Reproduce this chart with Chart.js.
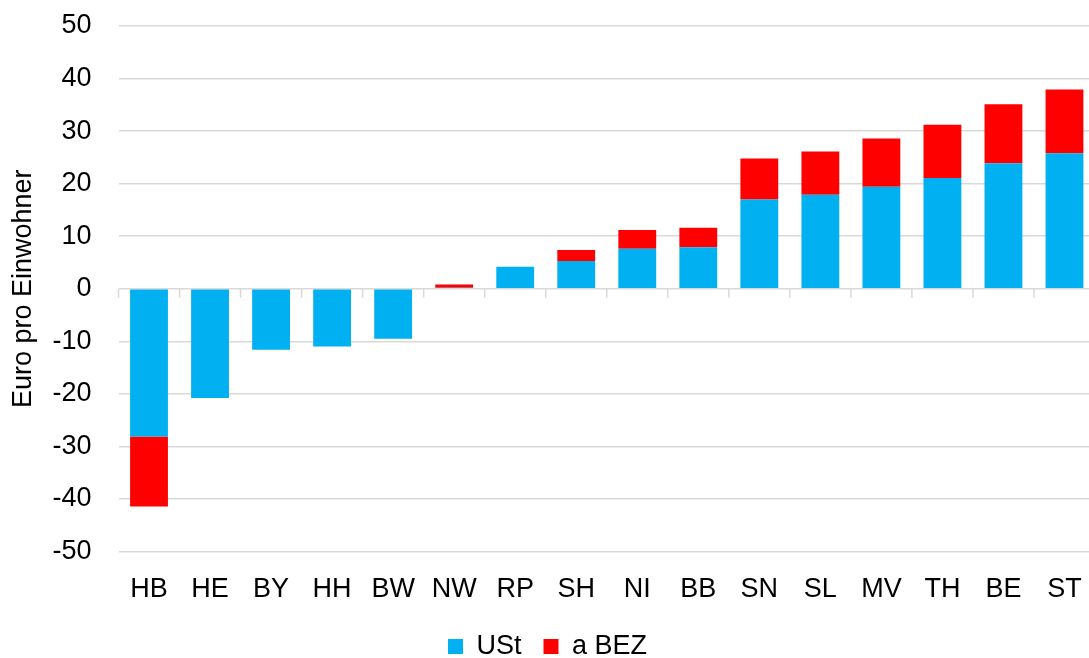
<!DOCTYPE html>
<html>
<head>
<meta charset="utf-8">
<script src="https://cdn.jsdelivr.net/npm/chart.js@4.4.0/dist/chart.umd.min.js"></script>
<style>
  body { margin: 0; overflow: hidden; background: #fff; }
  /* the plot runs a few pixels past the right edge in the original, so the canvas is a bit bigger and clipped */
  #wrap { position: relative; width: 1089px; height: 658px; overflow: hidden; }
  #chart { position: absolute; left: 0; top: 0; }
</style>
</head>
<body>
<div id="wrap"><canvas id="chart" width="1095" height="691"></canvas></div>
<script>
// -------- DATA -------- //
const laender = ["HB", "HE", "BY", "HH", "BW", "NW", "RP", "SH", "NI", "BB", "SN", "SL", "MV", "TH", "BE", "ST"];
const ust  = [-28.1, -20.8, -11.6, -11.0, -9.5, 0.2, 4.2, 5.3, 7.6, 7.9, 17.0, 17.9, 19.4, 21.1, 23.9, 25.8];
const aBez = [-13.3, 0, 0, 0, 0, 0.6, 0, 2.1, 3.6, 3.7, 7.8, 8.2, 9.2, 10.1, 11.2, 12.1];
const yMin = -50, yMax = 50, yStep = 10;

const font = "'Liberation Sans', Arial, Helvetica, sans-serif";
const gridColor = '#d9d9d9';

// little tick marks hanging under the zero line, between the categories
const zeroTicks = {
  id: 'zeroTicks',
  beforeDatasetsDraw(chart) {
    const xs = chart.scales.x, ys = chart.scales.y;
    const y0 = ys.getPixelForValue(0);
    const ctx = chart.ctx;
    ctx.save();
    ctx.strokeStyle = gridColor;
    ctx.lineWidth = 1.5;
    ctx.beginPath();
    for (let i = 0; i <= laender.length; i++) {
      const px = xs.getPixelForValue(i - 0.5);
      ctx.moveTo(px, y0);
      ctx.lineTo(px, y0 + 9);
    }
    ctx.stroke();
    ctx.restore();
  }
};

// pull the legend a bit closer to the axis labels
const legendUp = {
  id: 'legendUp',
  afterLayout(chart) {
    chart.legend.top -= 17;
    chart.legend.bottom -= 17;
  }
};

const ctx = document.getElementById('chart');

new Chart(ctx, {
  type: 'bar',
  data: {
    labels: laender,
    datasets: [
      {
        label: 'USt',
        data: ust,
        backgroundColor: '#00b0f0',
        borderWidth: 0
      },
      {
        label: 'a BEZ',
        data: aBez,
        backgroundColor: '#ff0000',
        borderWidth: 0
      }
    ]
  },
  options: {
    responsive: false,
    animation: false,
    categoryPercentage: 1,
    barPercentage: 0.62,
    layout: {
      padding: { top: 26, right: 0, bottom: 4, left: 0 }
    },
    scales: {
      x: {
        stacked: true,
        afterFit: scale => { scale.paddingLeft = 0; scale.paddingRight = 0; },
        grid: { display: false, drawTicks: false },
        border: { display: false },
        ticks: {
          color: '#000',
          padding: 22,
          font: { family: font, size: 27 }
        }
      },
      y: {
        stacked: true,
        min: yMin,
        max: yMax,
        afterFit: scale => {
          scale.width = 118.5;
          scale.paddingTop = 0;
          scale.paddingBottom = 0;
        },
        grid: { color: gridColor, lineWidth: 1.5, drawTicks: false },
        border: { display: false },
        ticks: {
          stepSize: yStep,
          color: '#000',
          padding: 27,
          font: { family: font, size: 27 }
        },
        title: {
          display: true,
          text: 'Euro pro Einwohner',
          color: '#000',
          padding: { top: 7, bottom: 0 },
          font: { family: font, size: 27 }
        }
      }
    },
    plugins: {
      legend: {
        position: 'bottom',
        labels: {
          color: '#000',
          boxWidth: 15,
          boxHeight: 15,
          padding: 22,
          font: { family: font, size: 27 }
        }
      },
      tooltip: { enabled: false }
    }
  },
  plugins: [zeroTicks, legendUp]
});
</script>
</body>
</html>
